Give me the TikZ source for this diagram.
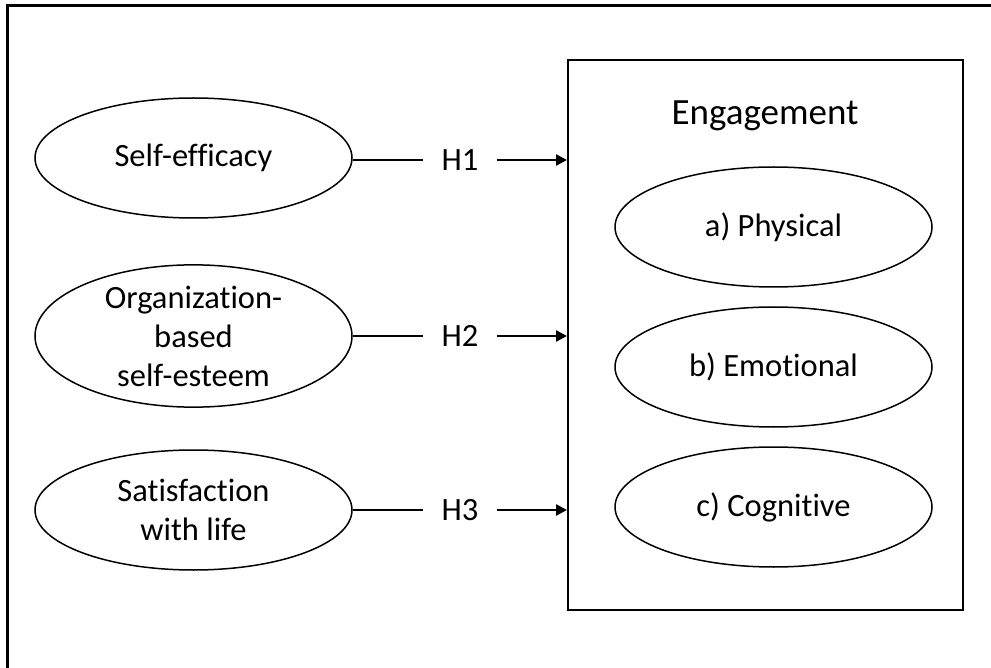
\documentclass[tikz,border=0pt]{standalone}
\usepackage{fontspec}
\setmainfont{Carlito}[Ligatures=NoCommon]
\usetikzlibrary{shapes.geometric,arrows.meta}
\begin{document}
\begin{tikzpicture}[x=1pt, y=-1pt,
  factor/.style={ellipse, draw=black, line width=1.5pt, minimum width=317pt, minimum height=120pt, inner sep=0pt, align=center, font=\fontsize{32.5}{39}\selectfont},
  facet/.style={ellipse, draw=black, line width=1.5pt, minimum width=317pt, minimum height=120pt, inner sep=0pt, align=center, font=\fontsize{32.5}{39}\selectfont},
  hyp/.style={inner xsep=18pt, inner ysep=0pt, font=\fontsize{32.5}{39}\selectfont},
  link/.style={line width=2.5pt}]
  \useasboundingbox (0,0) rectangle (991,668);
  \clip (0,0) rectangle (991,668);
  % outer frame
  \draw[line width=3pt] (7,700) -- (7,6) -- (1010,6);

  % engagement box
  \node[draw=black, line width=2pt, minimum width=395pt, minimum height=550pt, inner sep=0pt, name=box] at (765.5,335) {};
  \node[font=\fontsize{37}{44}\selectfont, anchor=base, name=eng] at (765,125) {Engagement};

  \node[facet, name=phys] at (773.5,227) {a) Physical};
  \node[facet, name=emot] at (773.5,367) {b) Emotional};
  \node[facet, name=cogn] at (773.5,507) {c) Cognitive};

  % antecedents
  \node[factor, name=se] at (193.5,158) {\raisebox{-3pt}{Self-efficacy}};
  \node[factor, name=obse] at (193.5,336) {Organization-\\based\\self-esteem};
  \node[factor, name=swl] at (193.5,510) {Satisfaction\\with life};

  \node[hyp, name=h1] at (460,160) {H1};
  \node[hyp, name=h2] at (460,336) {H2};
  \node[hyp, name=h3] at (460,510) {H3};

  \draw[link] (se.east |- h1) -- (h1.west);
  \draw[link, -{Triangle[length=11pt,width=11pt]}] (h1.east) -- (box.west |- h1);
  \draw[link] (obse.east |- h2) -- (h2.west);
  \draw[link, -{Triangle[length=11pt,width=11pt]}] (h2.east) -- (box.west |- h2);
  \draw[link] (swl.east |- h3) -- (h3.west);
  \draw[link, -{Triangle[length=11pt,width=11pt]}] (h3.east) -- (box.west |- h3);
\end{tikzpicture}
\end{document}
